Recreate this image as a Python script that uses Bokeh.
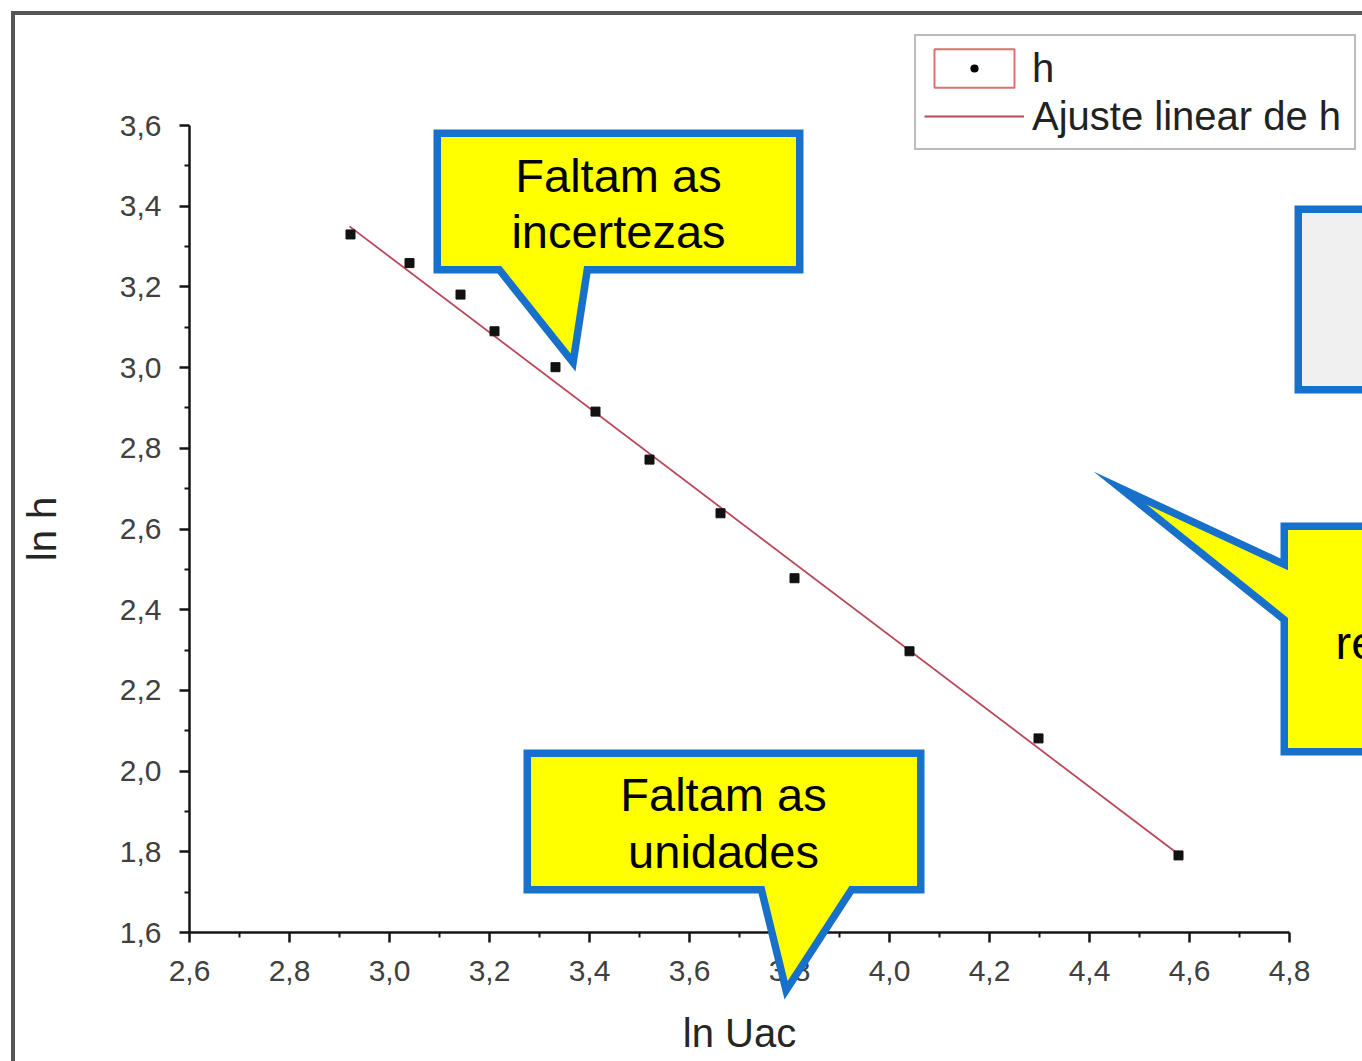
import math
from bokeh.plotting import figure
from bokeh.models import (Range1d, FixedTicker, CustomJSTickFormatter, Legend, LegendItem,
                          PolyAnnotation, Label, BoxAnnotation, ColumnDataSource)
from bokeh.embed import file_html
from bokeh.resources import INLINE

# ---------------- data ----------------
ln_uac = [2.922, 3.040, 3.142, 3.210, 3.332, 3.412, 3.520, 3.662, 3.810, 4.040, 4.298, 4.578]
ln_h   = [3.330, 3.259, 3.181, 3.090, 3.001, 2.891, 2.772, 2.639, 2.478, 2.297, 2.081, 1.791]
fit_x  = [2.92, 4.58]
fit_y  = [3.350, 1.792]
x_ticks = [2.6, 2.8, 3.0, 3.2, 3.4, 3.6, 3.8, 4.0, 4.2, 4.4, 4.6, 4.8]
x_minor = [2.7, 2.9, 3.1, 3.3, 3.5, 3.7, 3.9, 4.1, 4.3, 4.5, 4.7]
y_ticks = [1.6, 1.8, 2.0, 2.2, 2.4, 2.6, 2.8, 3.0, 3.2, 3.4, 3.6]
y_minor = [1.7, 1.9, 2.1, 2.3, 2.5, 2.7, 2.9, 3.1, 3.3, 3.5]
x_label = "ln Uac"
y_label = "ln h"
series_label = "h"
fit_label = "Ajuste linear de h"
callout_texts = [["Faltam as", "incertezas"], ["Faltam as", "unidades"], ["re"]]

# ---------------- layout ----------------
W, H = 1362, 1061
# reference-pixel positions of the axis ends
XA0, XA1 = 189.0, 1289.0   # 2.6, 4.8
YA0, YA1 = 932.0, 125.0    # 1.6, 3.6
sx = (x_ticks[-1] - x_ticks[0]) / (XA1 - XA0)
sy = (y_ticks[-1] - y_ticks[0]) / (YA0 - YA1)

def px2x(X):
    return x_ticks[0] + (X - XA0) * sx

def px2y(Y):
    return y_ticks[0] + (YA0 - Y) * sy

p = figure(width=W, height=H, output_backend="svg", toolbar_location=None, title=None,
           x_range=Range1d(px2x(0), px2x(W)), y_range=Range1d(px2y(H), px2y(0)),
           min_border=0, min_border_left=0, min_border_right=0, min_border_top=0, min_border_bottom=0)
p.outline_line_color = None
p.background_fill_color = "white"
p.border_fill_color = "white"
p.xgrid.visible = False
p.ygrid.visible = False

FONT = "Liberation Sans"
fmt = CustomJSTickFormatter(code="return tick.toFixed(1).replace('.', ',');")

for ax, ticks, minor, loc, bounds, lab in [
        (p.xaxis[0], x_ticks, x_minor, y_ticks[0], (x_ticks[0], x_ticks[-1]), x_label),
        (p.yaxis[0], y_ticks, y_minor, x_ticks[0], (y_ticks[0], y_ticks[-1]), y_label)]:
    ax.fixed_location = loc
    ax.bounds = bounds
    ax.ticker = FixedTicker(ticks=ticks, minor_ticks=minor)
    ax.formatter = fmt
    ax.axis_line_color = "#151515"
    ax.axis_line_width = 2.5
    ax.major_tick_line_color = "#151515"
    ax.major_tick_line_width = 2.5
    ax.major_tick_out = 10
    ax.major_tick_in = 0
    ax.minor_tick_line_color = "#151515"
    ax.minor_tick_line_width = 2
    ax.minor_tick_out = 5
    ax.minor_tick_in = 0
    ax.major_label_text_font = FONT
    ax.major_label_text_font_size = "30px"
    ax.major_label_text_color = "#404040"
    ax.axis_label = lab
    ax.axis_label_text_font = FONT
    ax.axis_label_text_font_size = "40px"
    ax.axis_label_text_font_style = "normal"
    ax.axis_label_text_color = "#262626"

p.xaxis[0].major_label_standoff = 18
p.xaxis[0].axis_label_standoff = 27
p.yaxis[0].major_label_standoff = 18
p.yaxis[0].axis_label_standoff = 53

# outer frame (top and left edges of the screenshot frame)
p.add_layout(BoxAnnotation(left=px2x(10.5), top=px2y(10.5), bottom=px2y(14.5),
                           fill_color="#555555", fill_alpha=1, line_color=None))
p.add_layout(BoxAnnotation(left=px2x(10.5), right=px2x(14.5), top=px2y(10.5),
                           fill_color="#555555", fill_alpha=1, line_color=None))

# ---------------- data marks ----------------
src = ColumnDataSource(dict(x=ln_uac, y=ln_h))
fit_r = p.line(fit_x, fit_y, line_color="#b8485a", line_width=1.8)
pts_r = p.scatter("x", "y", source=src, marker="square", size=9,
                  fill_color="#111111", line_color="#111111")

# legend-only renderers (hidden in the plot, drawn only as legend glyphs)
box_r = p.rect("x", "y", width=0.1, height=0.1, source=src,
               fill_color=None, line_color="#e07070", line_width=2)
dot_r = p.scatter("x", "y", source=src, marker="circle", size=8,
                  fill_color="black", line_color="white", line_width=11)
box_r.visible = False
dot_r.visible = False

legend = Legend(items=[LegendItem(label=series_label, renderers=[box_r, dot_r]),
                       LegendItem(label=fit_label, renderers=[fit_r])],
                location=(914, H - 150),
                orientation="vertical", padding=8, spacing=0, margin=0,
                glyph_width=100, glyph_height=48, label_height=48, label_width=314,
                label_standoff=8,
                label_text_font=FONT, label_text_font_size="40px", label_text_color="#222222",
                label_text_baseline="middle",
                border_line_color="#7a7a7a", border_line_width=2,
                background_fill_color="white", background_fill_alpha=1,
                inactive_fill_alpha=0)
p.add_layout(legend, "center")

# ---------------- callouts ----------------
BLUE = "#1770c9"
YELLOW = "#ffff00"
BORDER = 7.5

def inset(pts, d):
    n = len(pts)
    area = sum(pts[i][0] * pts[(i + 1) % n][1] - pts[(i + 1) % n][0] * pts[i][1] for i in range(n)) / 2
    sgn = 1 if area > 0 else -1
    lines = []
    for i in range(n):
        (x0, y0), (x1, y1) = pts[i], pts[(i + 1) % n]
        dx, dy = x1 - x0, y1 - y0
        L = math.hypot(dx, dy)
        nx, ny = -dy / L * sgn, dx / L * sgn
        lines.append((x0 + nx * d, y0 + ny * d, dx, dy))
    out = []
    for i in range(n):
        ax_, ay_, adx, ady = lines[i - 1]
        bx_, by_, bdx, bdy = lines[i]
        den = adx * bdy - ady * bdx
        t = ((bx_ - ax_) * bdy - (by_ - ay_) * bdx) / den
        out.append((ax_ + t * adx, ay_ + t * ady))
    return out

def callout(outer, fill):
    inner = inset(outer, BORDER)
    for poly, col in [(outer, BLUE), (inner, fill)]:
        p.add_layout(PolyAnnotation(xs=[px2x(X) for X, _ in poly], ys=[px2y(Y) for _, Y in poly],
                                    fill_color=col, fill_alpha=1, line_color=None))

c1 = [(433, 129), (803, 129), (803, 273), (590, 273), (575, 371), (497, 273), (433, 273)]
c2 = [(523, 749), (924, 749), (924, 893), (853, 893), (784, 999), (758, 893), (523, 893)]
c3 = [(1280, 522), (1440, 522), (1440, 755), (1280, 755), (1280, 621), (1093, 471), (1280, 558)]
gbox = [(1294, 205), (1440, 205), (1440, 393), (1294, 393)]

callout(c1, YELLOW)
callout(c2, YELLOW)
callout(c3, YELLOW)
callout(gbox, "#f0f0f0")

def text(X, Y, s, align="center"):
    p.add_layout(Label(x=px2x(X), y=px2y(Y), text=s, text_font=FONT, text_font_size="47px",
                       text_color="black", text_align=align, text_baseline="alphabetic"))

text(618, 175, callout_texts[0][0])
text(618, 231, callout_texts[0][1])
text(723, 794, callout_texts[1][0])
text(723, 851, callout_texts[1][1])
text(1335, 642, callout_texts[2][0], align="left")

open("out.html", "w").write(file_html(p, INLINE))
